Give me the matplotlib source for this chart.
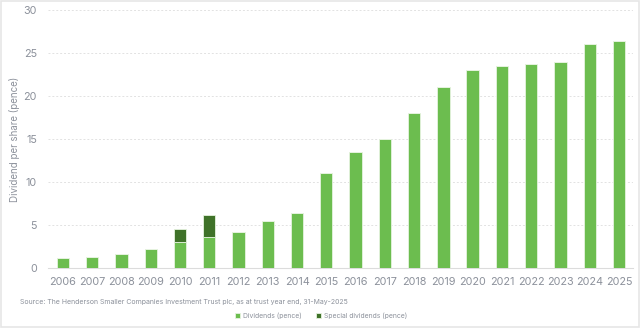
import matplotlib.pyplot as plt
from matplotlib.patches import Rectangle

years = [str(y) for y in range(2006, 2026)]
dividends = [1.13, 1.32, 1.67, 2.18, 3.0, 3.57, 4.2, 5.48, 6.45, 11.0,
             13.5, 15.0, 18.0, 21.0, 23.0, 23.45, 23.7, 24.0, 26.0, 26.45]
special = [0, 0, 0, 0, 1.55, 2.57, 0, 0, 0, 0,
           0, 0, 0, 0, 0, 0, 0, 0, 0, 0]

GREEN = "#6cbd4f"
DARK_GREEN = "#3f7229"
TEXT = "#8c919b"

plt.rcParams['font.family'] = ['Inter', 'DejaVu Sans']

fig = plt.figure(figsize=(6.4, 3.28), dpi=100)
ax = fig.add_axes([48 / 640, 1 - 268 / 328, 585 / 640, 258 / 328])

x = list(range(len(years)))
ax.bar(x, dividends, width=0.42, color=GREEN, edgecolor="#e6f3df",
       linewidth=0.6, label="Dividends (pence)", zorder=3)
ax.bar(x, special, width=0.42, bottom=dividends, color=DARK_GREEN,
       edgecolor="#e6f3df", linewidth=0.6, label="Special dividends (pence)",
       zorder=3)

ax.set_xlim(-0.51, 19.48)
ax.set_ylim(0, 30)
ax.set_yticks([0, 5, 10, 15, 20, 25, 30])
ax.set_xticks(x)
ax.set_xticklabels(years)
ax.tick_params(axis='both', length=0, colors=TEXT, labelsize=7.8)
ax.tick_params(axis='y', pad=8)
ax.tick_params(axis='x', pad=6.5)

ax.grid(axis='y', linestyle=(0, (2, 2)), color="#e2e2e2", linewidth=0.7,
        zorder=0)
for side in ['top', 'right', 'left']:
    ax.spines[side].set_visible(False)
ax.spines['bottom'].set_color("#dcdcdc")
ax.spines['bottom'].set_linewidth(0.8)

fig.text(15 / 640, 1 - 139 / 328, "Dividend per share (pence)", rotation=90,
         ha='center', va='center', color=TEXT, fontsize=7)
fig.text(20 / 640, 1 - 302 / 328,
         "Source: The Henderson Smaller Companies Investment Trust plc, "
         "as at trust year end, 31-May-2025",
         ha='left', va='center', color=TEXT, fontsize=5.0)

fig.legend(loc='center', bbox_to_anchor=(321 / 640, 1 - 316 / 328), ncol=2,
           frameon=False, fontsize=4.9, labelcolor=TEXT, handlelength=0.7,
           handleheight=0.7, handletextpad=0.4, columnspacing=2.2)

# thin frame around the whole figure
fig.patches.append(Rectangle((0.001, 0.002), 0.997, 0.995,
                             transform=fig.transFigure, fill=False,
                             edgecolor="#e6e6e6", linewidth=1.2))

fig.savefig("out.png", dpi=100, facecolor="white")
